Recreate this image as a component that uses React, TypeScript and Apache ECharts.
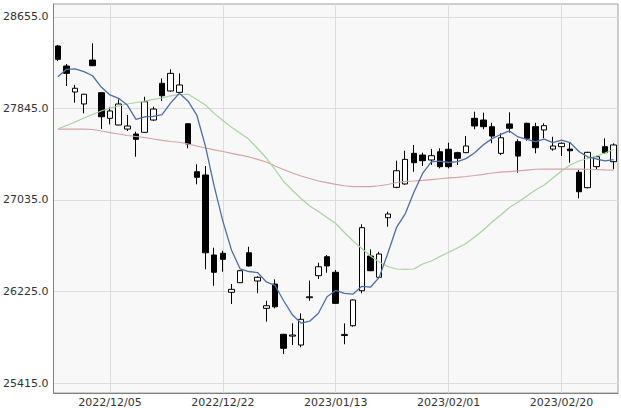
import React, { useEffect, useRef } from "react";
import * as echarts from "echarts";

const dates = [
  "2022/11/25", "2022/11/28", "2022/11/29", "2022/11/30", "2022/12/01", "2022/12/02",
  "2022/12/05", "2022/12/06", "2022/12/07", "2022/12/08", "2022/12/09", "2022/12/12",
  "2022/12/13", "2022/12/14", "2022/12/15", "2022/12/16", "2022/12/19", "2022/12/20",
  "2022/12/21", "2022/12/22", "2022/12/23", "2022/12/26", "2022/12/27", "2022/12/28",
  "2022/12/29", "2022/12/30", "2023/01/04", "2023/01/05", "2023/01/06", "2023/01/10",
  "2023/01/11", "2023/01/12", "2023/01/13", "2023/01/16", "2023/01/17", "2023/01/18",
  "2023/01/19", "2023/01/20", "2023/01/23", "2023/01/24", "2023/01/25", "2023/01/26",
  "2023/01/27", "2023/01/30", "2023/01/31", "2023/02/01", "2023/02/02", "2023/02/03",
  "2023/02/06", "2023/02/07", "2023/02/08", "2023/02/09", "2023/02/10", "2023/02/13",
  "2023/02/14", "2023/02/15", "2023/02/16", "2023/02/17", "2023/02/20", "2023/02/21",
  "2023/02/22", "2023/02/24", "2023/02/27", "2023/02/28", "2023/03/01",
];

const labelDates = ["2022/12/05", "2022/12/22", "2023/01/13", "2023/02/01", "2023/02/20"];
const yTicks = [25415, 26225, 27035, 27845, 28655];

const opens = [
  28398, 28221, 27991, 27885, 28274, 27985, 27758, 27699, 27663, 27619,
  27634, 27743, 28068, 28000, 27988, 27710, 27285, 27256, 26548, 26563,
  26218, 26303, 26568, 26318, 26076, 26291, 25846, 25830, 25751, 26170,
  26365, 26533, 26395, 25835, 25922, 26232, 26539, 26351, 26878, 27147,
  27177, 27448, 27433, 27389, 27462, 27484, 27454, 27454, 27758, 27743,
  27684, 27448, 27708, 27551, 27714, 27684, 27655, 27486, 27507, 27486,
  27280, 27144, 27330, 27507, 27374,
];
const closes = [
  28280, 28156, 28024, 27971, 28224, 27772, 27823, 27885, 27690, 27572,
  27905, 27840, 27958, 28156, 28053, 27531, 27236, 26568, 26395, 26510,
  26244, 26409, 26451, 26351, 26099, 26090, 25722, 25840, 25979, 26178,
  26444, 26451, 26120, 25845, 26150, 26790, 26409, 26557, 26911, 27294,
  27395, 27365, 27383, 27427, 27330, 27330, 27404, 27513, 27690, 27684,
  27601, 27586, 27670, 27424, 27581, 27498, 27693, 27513, 27537, 27471,
  27108, 27457, 27418, 27454, 27522,
];
const lows = [
  28265, 28044, 27896, 27802, 28220, 27663, 27705, 27695, 27646, 27418,
  27630, 27735, 27911, 27995, 27985, 27493, 27174, 26421, 26276, 26400,
  26114, 26300, 26445, 26209, 25958, 26076, 25672, 25751, 25731, 26143,
  26336, 26391, 26115, 25758, 25913, 26209, 26405, 26345, 26799, 27140,
  27170, 27285, 27336, 27345, 27315, 27315, 27345, 27450, 27661, 27661,
  27537, 27433, 27631, 27277, 27560, 27448, 27581, 27471, 27424, 27365,
  27050, 27138, 27300, 27442, 27307,
];
const highs = [
  28407, 28239, 28053, 27975, 28422, 27990, 27855, 27926, 27787, 27640,
  27949, 27861, 28112, 28192, 28156, 27715, 27351, 27336, 26613, 26586,
  26291, 26415, 26621, 26360, 26143, 26333, 25850, 25943, 26032, 26321,
  26480, 26548, 26415, 25943, 26155, 26820, 26598, 26577, 26931, 27383,
  27471, 27522, 27454, 27486, 27493, 27542, 27462, 27601, 27817, 27808,
  27719, 27625, 27811, 27572, 27719, 27719, 27714, 27595, 27546, 27546,
  27300, 27462, 27427, 27581, 27537,
];

const ma5 = [
  28126, 28192, 28195, 28171, 28135, 28035, 27965, 27935, 27875, 27748,
  27770, 27775, 27790, 27895, 27980, 27910, 27787, 27509, 27157, 26848,
  26591, 26425, 26402, 26393, 26311, 26280, 26143, 26020, 25946, 25962,
  26033, 26178, 26234, 26208, 26202, 26271, 26263, 26350, 26563, 26792,
  26913, 27104, 27270, 27373, 27380, 27367, 27375, 27401, 27453, 27524,
  27578, 27615, 27646, 27593, 27572, 27552, 27573, 27542, 27564, 27542,
  27464, 27417, 27398, 27382, 27392,
];
const ma25 = [
  27663, 27694, 27725, 27761, 27792, 27823, 27849, 27867, 27885, 27898,
  27911, 27925, 27938, 27956, 27969, 27971, 27925, 27876, 27802, 27739,
  27678, 27625, 27572, 27491, 27407, 27305, 27199, 27121, 27048, 26982,
  26933, 26880, 26827, 26747, 26672, 26606, 26539, 26486, 26446, 26424,
  26421, 26424, 26468, 26495, 26535, 26572, 26610, 26650, 26707, 26769,
  26840, 26902, 26969, 27017, 27070, 27123, 27168, 27230, 27292, 27345,
  27380, 27402, 27424, 27451, 27482,
];
const ma75 = [
  27663, 27663, 27663, 27662, 27659, 27646, 27632, 27619, 27606, 27597,
  27588, 27575, 27562, 27553, 27546, 27531, 27513, 27495, 27478, 27464,
  27447, 27433, 27416, 27395, 27371, 27336, 27305, 27274, 27247, 27225,
  27203, 27188, 27174, 27161, 27153, 27153, 27154, 27161, 27172, 27190,
  27199, 27203, 27208, 27216, 27223, 27230, 27236, 27243, 27252, 27262,
  27274, 27281, 27287, 27293, 27300, 27307, 27308, 27309, 27309, 27309,
  27308, 27307, 27305, 27302, 27300,
];

const FONT = "DejaVu Sans";

export default function App() {
  const ref = useRef<HTMLDivElement>(null);

  useEffect(() => {
    if (!ref.current) return;
    document.body.style.margin = "0";
    const chart = echarts.init(ref.current, null, { renderer: "svg" });
    const candles = opens.map((o, i) => [o, closes[i], lows[i], highs[i]]);
    const labelIdx = labelDates.map((d) => dates.indexOf(d));

    chart.setOption({
      animation: false,
      backgroundColor: "#ffffff",
      grid: {
        left: 52,
        right: 3,
        top: 4,
        bottom: 15,
        show: true,
        backgroundColor: "#f8f8f8",
        borderColor: "#a0a0a0",
        borderWidth: 1,
      },
      xAxis: {
        type: "category",
        data: dates,
        boundaryGap: true,
        axisLine: { show: true, onZero: false, lineStyle: { color: "#808080", width: 1 } },
        axisTick: { show: false },
        axisLabel: {
          interval: (i: number) => labelIdx.includes(i),
          color: "#333",
          fontSize: 11,
          fontFamily: FONT,
          margin: 4,
        },
        splitLine: { show: false },
      },
      yAxis: {
        type: "value",
        min: 25326.5,
        max: 28770,
        scale: true,
        axisLine: { show: true, lineStyle: { color: "#808080", width: 1 } },
        axisTick: { show: false, customValues: yTicks },
        axisLabel: {
          customValues: yTicks,
          formatter: (v: number) => v.toFixed(1),
          color: "#333",
          fontSize: 11,
          fontFamily: FONT,
          margin: 5,
        },
        splitLine: { show: true, lineStyle: { color: "#dcdcdc", width: 1 } },
      },
      series: [
        {
          type: "candlestick",
          data: candles,
          barWidth: 6,
          z: 2,
          itemStyle: {
            color: "#ffffff",
            color0: "#000000",
            borderColor: "#000000",
            borderColor0: "#000000",
            borderWidth: 1,
          },
          markLine: {
            silent: true,
            z: 1,
            symbol: ["none", "none"],
            label: { show: false },
            lineStyle: { color: "#dcdcdc", type: "solid", width: 1 },
            data: labelDates.map((d) => ({ xAxis: d })),
          },
        },
        {
          type: "line",
          data: ma75,
          showSymbol: false,
          symbol: "none",
          z: 3,
          lineStyle: { color: "#d4a3a3", width: 1.2 },
        },
        {
          type: "line",
          data: ma25,
          showSymbol: false,
          symbol: "none",
          z: 3,
          lineStyle: { color: "#a6d49e", width: 1.2 },
        },
        {
          type: "line",
          data: ma5,
          showSymbol: false,
          symbol: "none",
          z: 3,
          lineStyle: { color: "#4d6da8", width: 1.3 },
        },
      ],
    });

    return () => chart.dispose();
  }, []);

  return (
    <div
      ref={ref}
      style={{ position: "fixed", left: 0, top: 0, width: 621, height: 408 }}
    />
  );
}
